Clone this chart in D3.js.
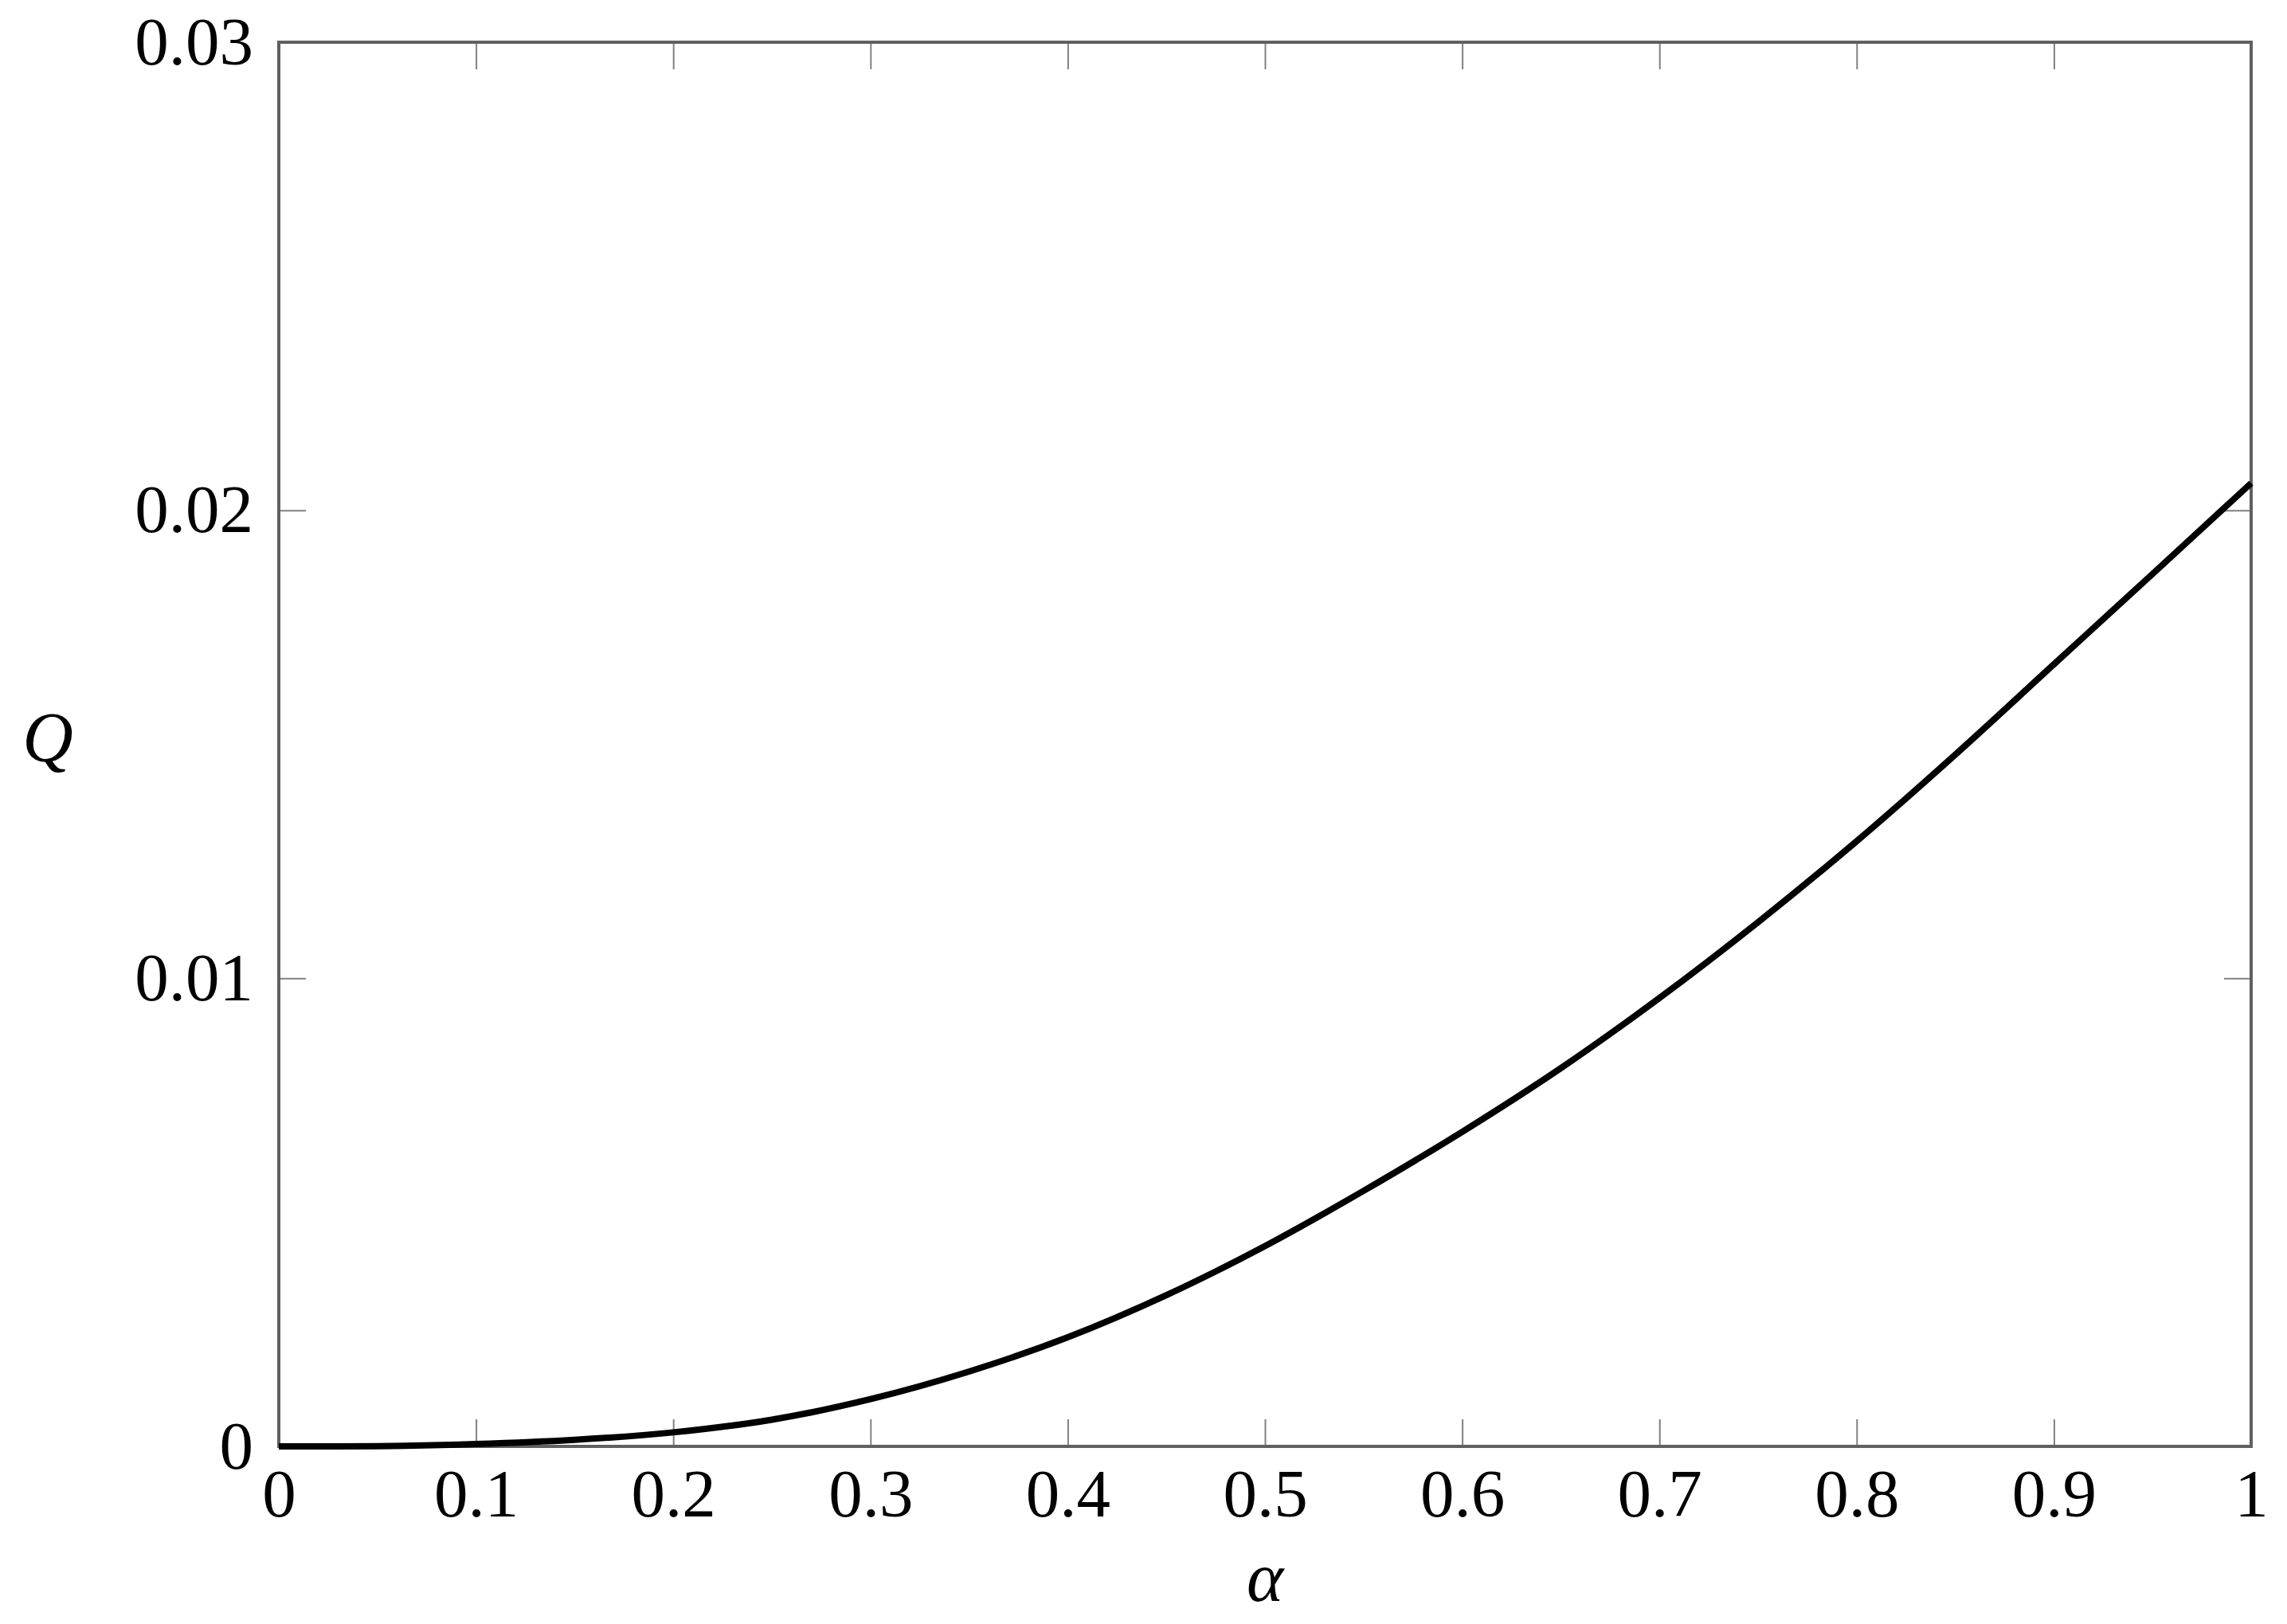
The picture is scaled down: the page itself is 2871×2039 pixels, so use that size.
<!DOCTYPE html>
<html>
<head>
<meta charset="utf-8">
<script src="https://cdn.jsdelivr.net/npm/d3@7"></script>
<style>
body { margin: 0; background: #fff; }
svg { display: block; }
.tick_lbl text { font-family: "Liberation Serif", serif; font-size: 85px; fill: #000; }
.axis_name { font-family: "Liberation Serif", serif; font-style: italic; font-size: 88px; fill: #000; }
</style>
</head>
<body>
<svg id="chart" width="2871" height="2039"></svg>
<script>
// values
var alpha_vals = [0, 0.05, 0.1, 0.15, 0.2, 0.25, 0.3, 0.35, 0.4, 0.45, 0.5,
	0.55, 0.6, 0.65, 0.7, 0.75, 0.8, 0.85, 0.9, 0.95, 1]
var q_vals = [0, 0.000006, 0.00005, 0.00014, 0.0003, 0.00057, 0.00101, 0.0016, 0.00233, 0.00323, 0.00428,
	0.00546, 0.00672, 0.00808, 0.00958, 0.0112, 0.01293, 0.01478, 0.01671, 0.01864, 0.02058]
var x_ticks = [0, 0.1, 0.2, 0.3, 0.4, 0.5, 0.6, 0.7, 0.8, 0.9, 1]
var x_tick_labels = ['0', '0.1', '0.2', '0.3', '0.4', '0.5', '0.6', '0.7', '0.8', '0.9', '1']
var y_ticks = [0, 0.01, 0.02, 0.03]
var y_tick_labels = ['0', '0.01', '0.02', '0.03']

// plot box (window.top is read-only, so no bare "top" here)
var box_l = 350, box_r = 2826, box_t = 53, box_b = 1816
var TICK_LEN = 34
var svg = d3.select('#chart')

var x = d3.scaleLinear().domain([0, 1]).range([box_l, box_r])
var y = d3.scaleLinear().domain([0, 0.03]).range([box_b, box_t])

function lbl(arr, ticks)
{
	return function(d){ return arr[ticks.indexOf(d)] }
}

// ticks on all four sides, pointing inward
var ax_b = svg.append('g').attr('class', 'tick_lbl').attr('transform', 'translate(0,' + box_b + ')')
	.call(d3.axisBottom(x).tickValues(x_ticks).tickSize(-TICK_LEN).tickPadding(28).tickFormat(lbl(x_tick_labels, x_ticks)))
var ax_t = svg.append('g').attr('transform', 'translate(0,' + box_t + ')')
	.call(d3.axisTop(x).tickValues(x_ticks).tickSize(-TICK_LEN).tickFormat(''))
var ax_l = svg.append('g').attr('class', 'tick_lbl').attr('transform', 'translate(' + box_l + ',0)')
	.call(d3.axisLeft(y).tickValues(y_ticks).tickSize(-TICK_LEN).tickPadding(32).tickFormat(lbl(y_tick_labels, y_ticks)))
var ax_r = svg.append('g').attr('transform', 'translate(' + box_r + ',0)')
	.call(d3.axisRight(y).tickValues(y_ticks).tickSize(-TICK_LEN).tickFormat(''))

;[ax_b, ax_t, ax_l, ax_r].forEach(function(a)
{
	a.select('.domain').remove()
	a.selectAll('.tick line').attr('stroke', '#808080').attr('stroke-width', 2)
})

// frame
svg.append('rect')
	.attr('x', box_l).attr('y', box_t)
	.attr('width', box_r - box_l).attr('height', box_b - box_t)
	.attr('fill', 'none').attr('stroke', '#606060').attr('stroke-width', 4)

var line = d3.line()
	.x(function(d){ return x(d[0]) })
	.y(function(d){ return y(d[1]) })
	.curve(d3.curveCatmullRom.alpha(0.5))
svg.append('path')
	.datum(d3.zip(alpha_vals, q_vals))
	.attr('d', line)
	.attr('fill', 'none')
	.attr('stroke', '#000')
	.attr('stroke-width', 8)

svg.append('text').attr('class', 'axis_name')
	.attr('x', 60).attr('y', 955).attr('text-anchor', 'middle').text('Q')
svg.append('text').attr('class', 'axis_name')
	.attr('x', x(0.5)).attr('y', 2010).attr('text-anchor', 'middle').text('α')
</script>
</body>
</html>
